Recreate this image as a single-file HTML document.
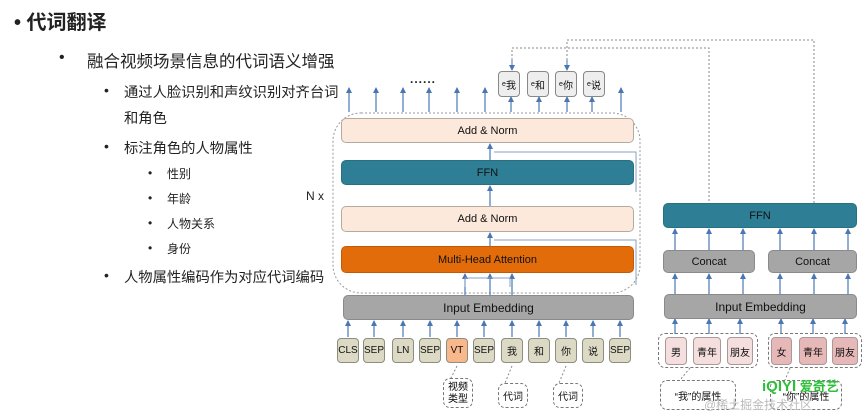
<!DOCTYPE html>
<html><head><meta charset="utf-8"><style>
body{margin:0;width:866px;height:414px;background:#fff;position:relative;overflow:hidden;font-family:"Liberation Sans","Noto Sans CJK SC",sans-serif;}
.t{position:absolute;white-space:nowrap;color:#222;}
.b{position:absolute;box-sizing:border-box;border-radius:5px;display:flex;align-items:center;justify-content:center;font-size:11px;color:#111;}
.an{background:#fce9db;border:1px solid #b5aaa2;}
.ffn{background:#2e7f95;border:1px solid #27707f;}
.gr{background:#a6a6a6;border:1px solid #8a8a8a;}
.tk{background:#dcd9c5;border:1px solid #8d8d80;font-size:10px;border-radius:4px;}
.pk{background:#f4dede;border:1px solid #a99;font-size:10px;border-radius:4px;}
.pk2{background:#e6b9b8;border:1px solid #a99;font-size:10px;border-radius:4px;}
.eb{background:#eeeeee;border:1px solid #888;font-size:10px;border-radius:4px;}
.dash{position:absolute;box-sizing:border-box;border:1px dashed #777;border-radius:7px;}
</style></head><body>
<svg width="866" height="414" style="position:absolute;left:0;top:0">
<defs><marker id="a" markerWidth="6" markerHeight="6" refX="5" refY="3" orient="auto" markerUnits="userSpaceOnUse" viewBox="0 0 6 6"><path d="M0,0 L6,3 L0,6z" fill="#4a77b4"/></marker></defs>
<rect x="333" y="113" width="307" height="180" rx="28" fill="none" stroke="#999" stroke-dasharray="2,2"/>
<g stroke="#4a77b4" stroke-width="1.2" marker-end="url(#a)">
<line x1="349" y1="112" x2="349" y2="88"/><line x1="376" y1="112" x2="376" y2="88"/><line x1="403" y1="112" x2="403" y2="88"/><line x1="429" y1="112" x2="429" y2="88"/><line x1="457" y1="112" x2="457" y2="88"/><line x1="485" y1="112" x2="485" y2="88"/><line x1="511" y1="112" x2="511" y2="97"/><line x1="539" y1="112" x2="539" y2="97"/><line x1="567" y1="112" x2="567" y2="97"/><line x1="592" y1="112" x2="592" y2="97"/><line x1="621" y1="112" x2="621" y2="88"/>
<line x1="490" y1="160" x2="490" y2="144"/><line x1="490" y1="206" x2="490" y2="186"/><line x1="490" y1="246" x2="490" y2="233"/>
<line x1="465" y1="295" x2="465" y2="274"/><line x1="490" y1="295" x2="490" y2="274"/><line x1="512" y1="295" x2="512" y2="274"/>
<line x1="348" y1="337" x2="348" y2="321"/><line x1="374" y1="337" x2="374" y2="321"/><line x1="403" y1="337" x2="403" y2="321"/><line x1="430" y1="337" x2="430" y2="321"/><line x1="457" y1="337" x2="457" y2="321"/><line x1="484" y1="337" x2="484" y2="321"/><line x1="512" y1="337" x2="512" y2="321"/><line x1="539" y1="337" x2="539" y2="321"/><line x1="566" y1="337" x2="566" y2="321"/><line x1="593" y1="337" x2="593" y2="321"/><line x1="620" y1="337" x2="620" y2="321"/>
<line x1="675" y1="250" x2="675" y2="229"/><line x1="709" y1="250" x2="709" y2="229"/><line x1="743" y1="250" x2="743" y2="229"/><line x1="780" y1="250" x2="780" y2="229"/><line x1="814" y1="250" x2="814" y2="229"/><line x1="848" y1="250" x2="848" y2="229"/>
<line x1="675" y1="294" x2="675" y2="274"/><line x1="709" y1="294" x2="709" y2="274"/><line x1="743" y1="294" x2="743" y2="274"/><line x1="780" y1="294" x2="780" y2="274"/><line x1="814" y1="294" x2="814" y2="274"/><line x1="848" y1="294" x2="848" y2="274"/>
<line x1="675" y1="334" x2="675" y2="319"/><line x1="709" y1="334" x2="709" y2="319"/><line x1="740" y1="334" x2="740" y2="319"/><line x1="781" y1="334" x2="781" y2="319"/><line x1="813" y1="334" x2="813" y2="319"/><line x1="845" y1="334" x2="845" y2="319"/>
</g>
<g fill="none" stroke="#8aa0c0" stroke-width="1">
<polyline points="636,192 636,152 494,152"/>
<polyline points="636,285 636,240 494,240"/>
<polyline points="465,287 465,278 510,278 510,287"/>
</g>
<g fill="none" stroke="#888" stroke-dasharray="2,2">
<polyline points="567,64 567,40 814,40 814,203"/>
<polyline points="512,64 512,48 709,48 709,203"/>
<polyline points="457,366 450,380"/><polyline points="512,366 505,383"/><polyline points="566,366 559,383"/>
<polyline points="690,368 680,380"/><polyline points="790,368 785,380"/>
</g>
<g stroke="#4a77b4" marker-end="url(#a)"><line x1="512" y1="60" x2="512" y2="70"/><line x1="567" y1="60" x2="567" y2="70"/></g>
</svg>
<div class="t" style="left:14px;top:6px;font-size:20px;font-weight:bold;">• 代词翻译</div>
<div class="t" style="left:59px;top:49px;font-size:16px;">•</div>
<div class="t" style="left:87px;top:48px;font-size:16.5px;">融合视频场景信息的代词语义增强</div>
<div class="t" style="left:104px;top:82px;font-size:14px;">•</div>
<div class="t" style="left:124px;top:81px;font-size:14.3px;">通过人脸识别和声纹识别对齐台词</div>
<div class="t" style="left:124px;top:107px;font-size:14.3px;">和角色</div>
<div class="t" style="left:104px;top:138px;font-size:14px;">•</div>
<div class="t" style="left:124px;top:137px;font-size:14.3px;">标注角色的人物属性</div>
<div class="t" style="left:148px;top:166px;font-size:12px;">•</div><div class="t" style="left:167px;top:165px;font-size:12px;">性别</div>
<div class="t" style="left:148px;top:191px;font-size:12px;">•</div><div class="t" style="left:167px;top:190px;font-size:12px;">年龄</div>
<div class="t" style="left:148px;top:216px;font-size:12px;">•</div><div class="t" style="left:167px;top:215px;font-size:12px;">人物关系</div>
<div class="t" style="left:148px;top:241px;font-size:12px;">•</div><div class="t" style="left:167px;top:240px;font-size:12px;">身份</div>
<div class="t" style="left:104px;top:267px;font-size:14px;">•</div>
<div class="t" style="left:124px;top:266px;font-size:14.3px;">人物属性编码作为对应代词编码</div>
<div class="t" style="left:306px;top:189px;font-size:12px;">N x</div>
<div class="t" style="left:410px;top:72px;font-size:12px;font-weight:bold;letter-spacing:1px;">......</div>
<div class="b eb" style="left:498px;top:71px;width:22px;height:26px;"><sup style="font-size:7px">e</sup>我</div>
<div class="b eb" style="left:527px;top:71px;width:22px;height:26px;"><sup style="font-size:7px">e</sup>和</div>
<div class="b eb" style="left:555px;top:71px;width:22px;height:26px;"><sup style="font-size:7px">e</sup>你</div>
<div class="b eb" style="left:583px;top:71px;width:22px;height:26px;"><sup style="font-size:7px">e</sup>说</div>
<div class="b an" style="left:341px;top:118px;width:293px;height:25px;">Add &amp; Norm</div>
<div class="b ffn" style="left:341px;top:160px;width:293px;height:25px;">FFN</div>
<div class="b an" style="left:341px;top:206px;width:293px;height:26px;">Add &amp; Norm</div>
<div class="b" style="left:341px;top:246px;width:293px;height:27px;background:#e36c0a;border:1px solid #c55a05;">Multi-Head Attention</div>
<div class="b gr" style="left:343px;top:295px;width:291px;height:25px;font-size:12px;">Input Embedding</div>
<div class="b tk" style="left:337px;top:338px;width:22px;height:25px;">CLS</div>
<div class="b tk" style="left:363px;top:338px;width:22px;height:25px;">SEP</div>
<div class="b tk" style="left:392px;top:338px;width:22px;height:25px;">LN</div>
<div class="b tk" style="left:419px;top:338px;width:22px;height:25px;">SEP</div>
<div class="b tk" style="left:446px;top:338px;width:22px;height:25px;background:#f9b88b;">VT</div>
<div class="b tk" style="left:473px;top:338px;width:22px;height:25px;">SEP</div>
<div class="b tk" style="left:501px;top:338px;width:22px;height:25px;">我</div>
<div class="b tk" style="left:528px;top:338px;width:22px;height:25px;">和</div>
<div class="b tk" style="left:555px;top:338px;width:22px;height:25px;">你</div>
<div class="b tk" style="left:582px;top:338px;width:22px;height:25px;">说</div>
<div class="b tk" style="left:609px;top:338px;width:22px;height:25px;">SEP</div>
<div class="dash" style="left:443px;top:378px;width:30px;height:30px;font-size:10px;text-align:center;line-height:12px;padding-top:3px;">视频<br>类型</div>
<div class="dash b" style="left:498px;top:383px;width:30px;height:25px;font-size:10px;">代词</div>
<div class="dash b" style="left:553px;top:383px;width:30px;height:25px;font-size:10px;">代词</div>
<div class="b ffn" style="left:663px;top:203px;width:194px;height:25px;">FFN</div>
<div class="b gr" style="left:663px;top:250px;width:92px;height:23px;">Concat</div>
<div class="b gr" style="left:768px;top:250px;width:89px;height:23px;">Concat</div>
<div class="b gr" style="left:664px;top:294px;width:193px;height:25px;font-size:12px;">Input Embedding</div>
<div class="dash" style="left:658px;top:333px;width:100px;height:35px;"></div>
<div class="dash" style="left:768px;top:333px;width:94px;height:35px;"></div>
<div class="b pk" style="left:665px;top:337px;width:22px;height:28px;">男</div>
<div class="b pk" style="left:693px;top:337px;width:28px;height:28px;">青年</div>
<div class="b pk" style="left:727px;top:337px;width:26px;height:28px;">朋友</div>
<div class="b pk2" style="left:771px;top:337px;width:21px;height:28px;">女</div>
<div class="b pk2" style="left:799px;top:337px;width:28px;height:28px;">青年</div>
<div class="b pk2" style="left:832px;top:337px;width:26px;height:28px;">朋友</div>
<div class="dash b" style="left:660px;top:380px;width:76px;height:30px;font-size:10px;">“我”的属性</div>
<div class="dash b" style="left:770px;top:380px;width:72px;height:30px;font-size:10px;">“你”的属性</div>
<div class="t" style="left:762px;top:376px;font-size:15px;font-weight:bold;color:#2fbf3a;">iQIYI<span style="font-size:13px"> 爱奇艺</span></div>
<div class="t" style="left:704px;top:396px;font-size:12px;color:#bbb;">@稀土掘金技术社区</div>
</body></html>
